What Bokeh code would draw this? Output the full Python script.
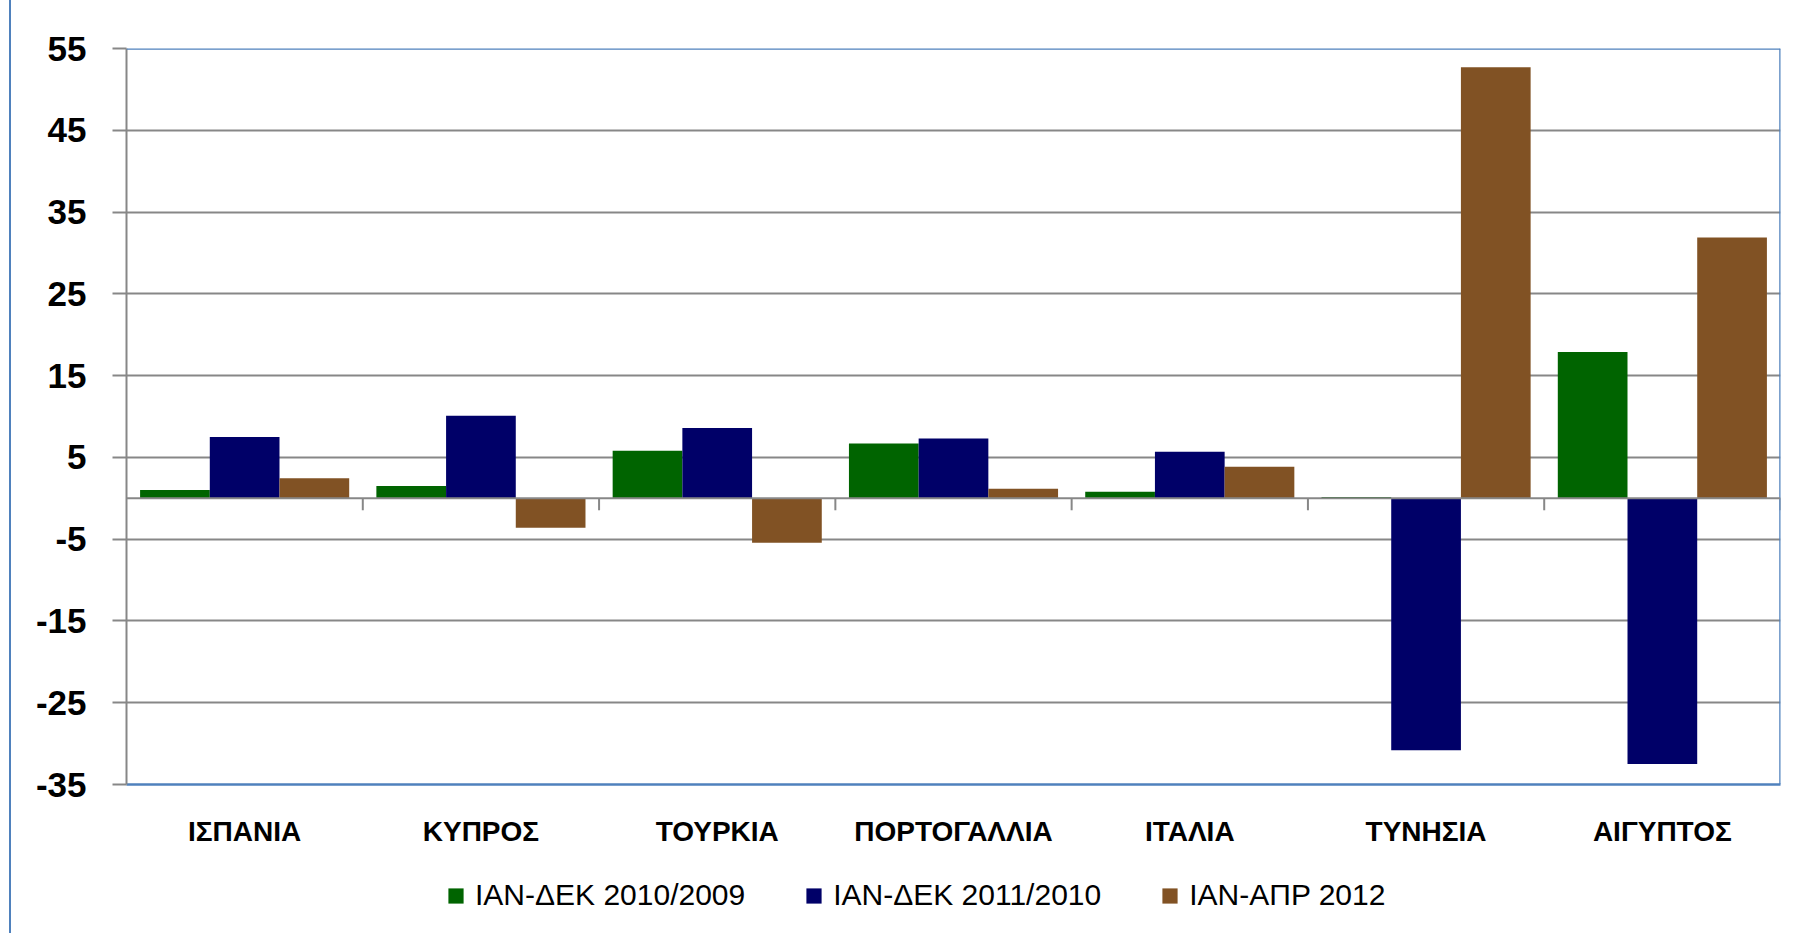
from bokeh.plotting import figure
from bokeh.layouts import column
from bokeh.models import (FactorRange, Range1d, FixedTicker, Legend, LegendItem,
                          Span, ColumnDataSource)
from bokeh.transform import dodge
from bokeh.embed import file_html
from bokeh.resources import INLINE

# ---------------- data ----------------
categories = ["ΙΣΠΑΝΙΑ", "ΚΥΠΡΟΣ", "ΤΟΥΡΚΙΑ", "ΠΟΡΤΟΓΑΛΛΙΑ", "ΙΤΑΛΙΑ", "ΤΥΝΗΣΙΑ", "ΑΙΓΥΠΤΟΣ"]
series_names = ["ΙΑΝ-ΔΕΚ 2010/2009", "ΙΑΝ-ΔΕΚ 2011/2010", "ΙΑΝ-ΑΠΡ 2012"]
jan_dec_2010_2009 = [1.0, 1.5, 5.8, 6.7, 0.8, 0.15, 17.9]
jan_dec_2011_2010 = [7.5, 10.1, 8.6, 7.3, 5.7, -30.8, -32.5]
jan_apr_2012 = [2.45, -3.6, -5.45, 1.15, 3.85, 52.7, 31.9]
y_ticks = [-35, -25, -15, -5, 5, 15, 25, 35, 45, 55]
y_tick_labels = {t: str(t) for t in y_ticks}

# ---------------- style ----------------
colors = ["#006400", "#000068", "#815224"]
GRAY = "#878787"
BLUE = "#4F81BD"
FONT = "Liberation Sans"

W = 1783
H_CHART, H_LEG = 853, 80
BL, BR, BT, BB = 115, 14, 48, 69

source = ColumnDataSource(dict(cat=categories, s0=jan_dec_2010_2009,
                               s1=jan_dec_2011_2010, s2=jan_apr_2012))
keys = ["s0", "s1", "s2"]

p = figure(width=W, height=H_CHART, x_range=FactorRange(*categories, range_padding=0),
           y_range=Range1d(y_ticks[0], y_ticks[-1]),
           output_backend="svg", toolbar_location=None,
           min_border_left=BL, min_border_right=BR, min_border_top=BT, min_border_bottom=BB)
p.outline_line_color = None
p.background_fill_color = "white"
p.border_fill_color = "white"

bw = 0.295
for i, key in enumerate(keys):
    p.vbar(x=dodge("cat", (i - 1) * bw, range=p.x_range), top=key, width=bw,
           source=source, fill_color=colors[i], line_color=None)

# grid
p.xgrid.grid_line_color = None
p.ygrid.ticker = FixedTicker(ticks=y_ticks)
p.ygrid.grid_line_color = GRAY
p.ygrid.grid_line_width = 2

# y axis
p.yaxis.ticker = FixedTicker(ticks=y_ticks)
p.yaxis.major_label_overrides = y_tick_labels
p.yaxis.axis_line_color = GRAY
p.yaxis.axis_line_width = 2
p.yaxis.major_tick_line_color = GRAY
p.yaxis.major_tick_line_width = 2
p.yaxis.major_tick_out = 14
p.yaxis.major_tick_in = 0
p.yaxis.minor_tick_line_color = None
p.yaxis.major_label_standoff = 26
p.yaxis.major_label_text_font = FONT
p.yaxis.major_label_text_font_style = "bold"
p.yaxis.major_label_text_font_size = "35px"
p.yaxis.major_label_text_color = "black"

# x axis (category labels under the frame, blue frame bottom line)
p.xaxis.axis_line_color = BLUE
p.xaxis.axis_line_width = 2.5
p.xaxis.major_tick_line_color = None
p.xaxis.minor_tick_line_color = None
p.xaxis.major_label_standoff = 25
p.xaxis.major_label_text_font = FONT
p.xaxis.major_label_text_font_style = "bold"
p.xaxis.major_label_text_font_size = "28px"
p.xaxis.major_label_text_color = "black"

# blue frame edges (top, right)
p.add_layout(Span(location=y_ticks[-1], dimension="width", line_color=BLUE, line_width=2.5))
p.add_layout(Span(location=len(categories), dimension="height", line_color=BLUE, line_width=2.5))

# zero line with category separator ticks
p.add_layout(Span(location=0, dimension="width", line_color=GRAY, line_width=2))
tick_len = 12 * (y_ticks[-1] - y_ticks[0]) / (H_CHART - BT - BB)
bounds = list(range(1, len(categories) + 1))
p.segment(x0=bounds, x1=bounds, y0=[0] * len(bounds), y1=[-tick_len] * len(bounds),
          line_color=GRAY, line_width=2)

# ---------------- legend strip ----------------
leg = figure(width=W, height=H_LEG, x_axis_type=None, y_axis_type=None,
             x_range=FactorRange(*categories), y_range=Range1d(0, 1),
             output_backend="svg", toolbar_location=None,
             min_border_left=0, min_border_right=0, min_border_top=0, min_border_bottom=0)
leg.outline_line_color = None
leg.grid.grid_line_color = None
leg_renderers = [leg.vbar(x="cat", top=key, width=bw, source=source,
                          fill_color=colors[i], line_color=None, visible=False)
                 for i, key in enumerate(keys)]
legend = Legend(items=[LegendItem(label=series_names[i], renderers=[leg_renderers[i]]) for i in range(3)],
                orientation="horizontal", location=(320, 21),
                spacing=59, label_standoff=10, glyph_width=19, glyph_height=19,
                padding=0, margin=0, border_line_color=None, background_fill_alpha=0,
                label_text_font=FONT, label_text_font_size="30px", label_text_color="black")
leg.add_layout(legend)

layout = column(p, leg, spacing=0)
layout.styles = {"border-left": "2px solid " + BLUE, "margin-left": "9px"}

open("out.html", "w").write(file_html(layout, INLINE))
